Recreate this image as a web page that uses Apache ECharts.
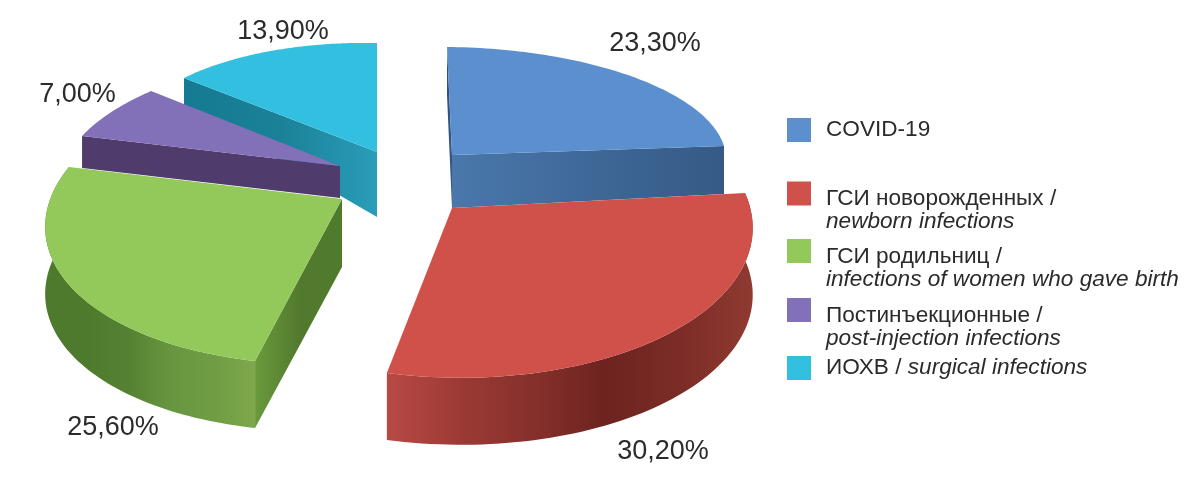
<!DOCTYPE html>
<html><head><meta charset="utf-8">
<style>html,body{margin:0;padding:0;background:#fff}#c{width:1200px;height:487px}</style>
<script src="https://cdn.jsdelivr.net/npm/echarts@6/dist/echarts.min.js"></script>
</head><body><div id="c"></div>
<script>
// ---- data ----
var categories = ['COVID-19','ГСИ новорожденных','ГСИ родильниц','Постинъекционные','ИОХВ'];
var englishNames = [null,'newborn infections','infections of women who gave birth','post-injection infections','surgical infections'];
var shares = [23.3,30.2,25.6,7.0,13.9];

// ---- projection of each exploded slice: apex, linear map of the unit circle, perspective ----
var slicesView = [
 {apex:[452,155],m:[274.1,5,2.5,108],k:0,depth:[53,48],top:'#5b8fce',z:3,walls:{
   startCut:{stops:['#2f5078','#35598a']},endCut:{stops:['#4a78ab','#3f6898','#355a85']}},
   label:[655,44]},
 {apex:[452,208],m:[298.5,6.5,1.1,152.8],k:0.1,depth:[67,67],top:'#d0504a',z:5,walls:{
   arc:{stops:['#b84a45','#9c3a35','#86302b','#6d2320','#7c2c26','#8e3a31']}},
   label:[663,452]},
 {apex:[342,199],m:[293.5,-14.8,-5.3,148.6],k:0.1,depth:[68,67],top:'#93c95a',z:4,walls:{
   arc:{stops:['#4f7a2e','#4e7a2c','#558232','#689640','#6f9c44','#7ea84a']},startCut:{stops:['#6a9a3c','#527a2e','#507a2c']}},
   label:[113,428]},
 {apex:[340,166],m:[276,-35.2,0.4,116.2],k:0,depth:[32,32],top:'#8270b8',z:2,walls:{
   startCut:{stops:['#4f3c6c','#4f3c6c']}},
   label:[77.5,95]},
 {apex:[377,152],m:[251.8,0,5.2,109],k:0,depth:[65,27],top:'#33c0e0',z:1,walls:{
   startCut:{stops:['#157a92','#1a8198','#2a9db8']},endCut:{stops:['#1a7f98','#1a7f98']}},
   label:[283,32]}
];
var legendTops = [118,165.5,223,282,356];
var total = shares.reduce(function(a,b){return a+b;},0);

function grad(stops){
  return {type:'linear',x:0,y:0,x2:1,y2:0,colorStops:stops.map(function(c,i){return {offset:i/(stops.length-1),color:c};})};
}
function project(v,deg){
  var t=deg*Math.PI/180,ux=Math.sin(t),uy=-Math.cos(t),w=1-v.k*uy;
  return [v.apex[0]+(v.m[0]*ux+v.m[1]*uy)/w, v.apex[1]+(v.m[2]*ux+v.m[3]*uy)/w];
}
function renderSlice(params){
  var i=params.seriesIndex,v=slicesView[i];
  var before=shares.slice(0,i).reduce(function(a,b){return a+b;},0);
  var a0=before/total*360,a1=(before+shares[i])/total*360,rim=[];
  for(var n=0;n<=72;n++) rim.push(project(v,a0+(a1-a0)*n/72));
  var s=rim[0],e=rim[rim.length-1],d0=v.depth[0],d1=v.depth[1],kids=[];
  function poly(points,fill){kids.push({type:'polygon',shape:{points:points},style:{fill:fill},silent:true});}
  function cut(p){return [v.apex,p,[p[0],p[1]+d1],[v.apex[0],v.apex[1]+d0]];}
  if(v.walls.startCut) poly(cut(s),grad(v.walls.startCut.stops));
  if(v.walls.endCut) poly(cut(e),grad(v.walls.endCut.stops));
  if(v.walls.arc) poly(rim.concat(rim.map(function(p){return [p[0],p[1]+d1];}).reverse()),grad(v.walls.arc.stops));
  poly([v.apex].concat(rim),v.top);
  kids.push({type:'text',silent:true,style:{x:v.label[0],y:v.label[1],text:shares[i].toFixed(2).replace('.',',')+'%',
    fill:'#2b2b2b',font:'27px "Liberation Sans"',align:'center',verticalAlign:'middle'}});
  return {type:'group',children:kids};
}
function legendText(name){
  var i=categories.indexOf(name),en=englishNames[i];
  if(!en) return '{a|'+name+'}';
  if(i===4) return '{a|'+name+' / }{c|'+en+'}';
  return '{gap| }\n{a|'+name+' /}\n{b|'+en+'}';
}
var rich={gap:{lineHeight:34,fontSize:10},
  a:{fontSize:22.6,lineHeight:23,fontFamily:'Liberation Sans',color:'#2b2b2b',padding:[0,0,0,10]},
  b:{fontSize:22.6,lineHeight:23,fontFamily:'Liberation Sans',fontStyle:'italic',color:'#2b2b2b',padding:[0,0,0,10]},
  c:{fontSize:22.6,lineHeight:23,fontFamily:'Liberation Sans',fontStyle:'italic',color:'#2b2b2b'}};

var chart=echarts.init(document.getElementById('c'),null,{renderer:'canvas'});
chart.setOption({
  animation:false,backgroundColor:'#fff',
  legend:categories.map(function(name,i){return {
    data:[name],orient:'vertical',left:787,top:legendTops[i],padding:0,itemWidth:24,itemHeight:24,icon:'rect',
    selectedMode:false,formatter:legendText,textStyle:{rich:rich,color:'#2b2b2b'}};}),
  series:categories.map(function(name,i){return {
    type:'custom',name:name,coordinateSystem:'none',z:slicesView[i].z,clip:false,
    itemStyle:{color:slicesView[i].top},data:[[shares[i]]],renderItem:renderSlice};})
});
</script></body></html>
